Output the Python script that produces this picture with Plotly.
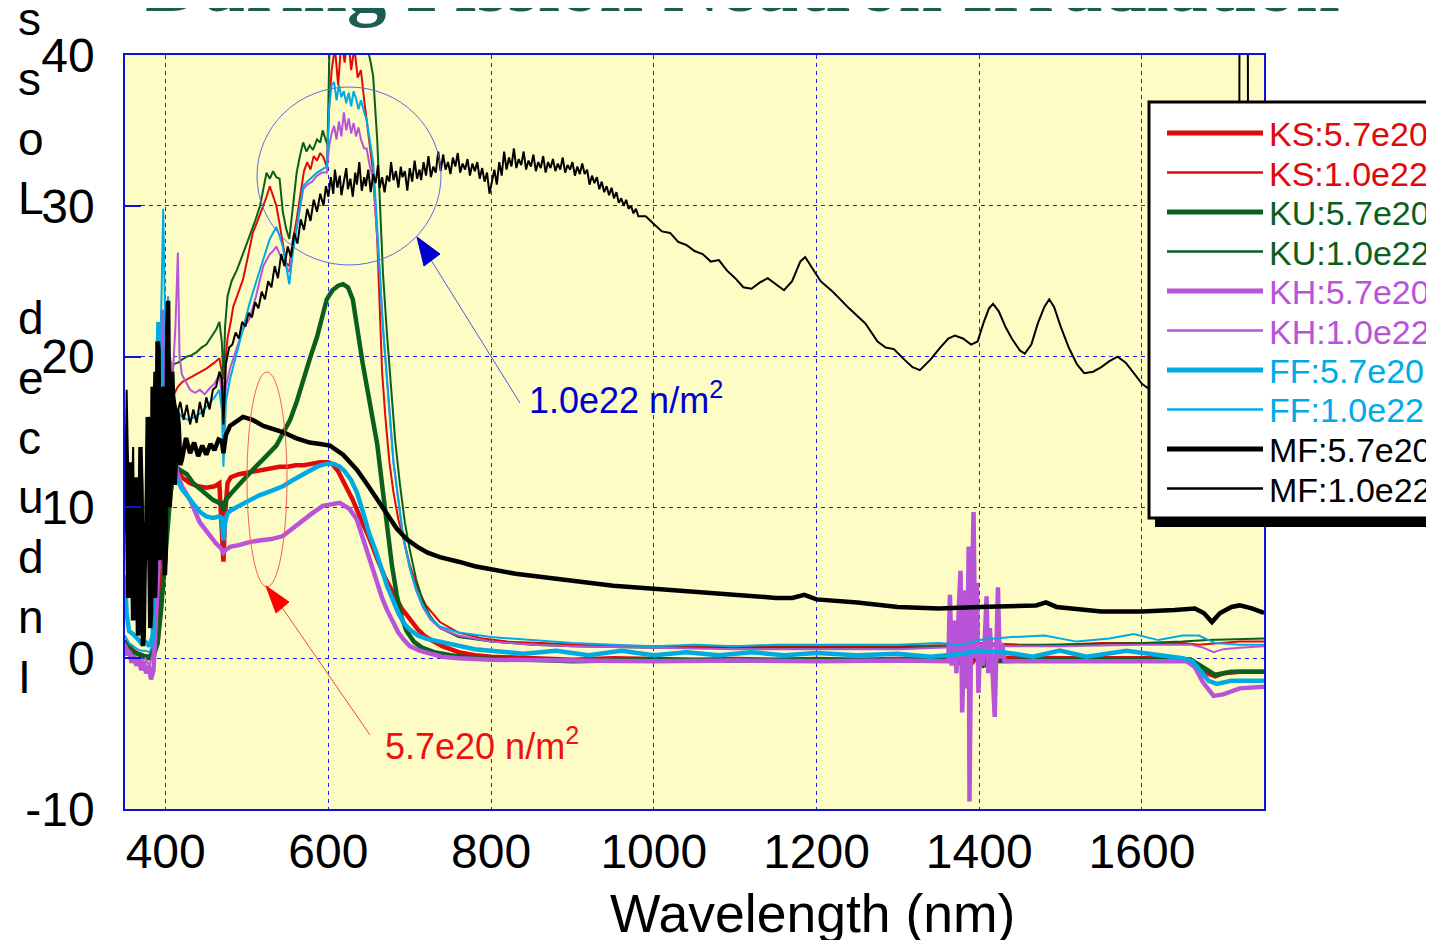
import plotly.graph_objects as go

# ---------------- data (wavelength nm, induced loss) ----------------
KS57 = [(350,1.2),(355,0.8),(360,0.5),(365,0.3),(370,0.2),(375,0.1),(380,0.0),(385,0.3),(390,1.0),(394,3.5),(398,6.5),(402,9.0),(406,11.0),(410,12.2),(415,12.4),(420,12.0),(430,11.6),(440,11.4),(450,11.3),(460,11.4),(466,11.6),(469,9.0),(471,6.4),(473,9.5),(476,11.6),(480,12.0),(490,12.2),(500,12.3),(510,12.4),(520,12.5),(530,12.6),(540,12.7),(550,12.7),(560,12.8),(570,12.8),(580,12.9),(590,13.0),(600,13.0),(606,12.8),(612,12.4),(620,11.6),(630,10.5),(640,9.2),(650,8.0),(660,6.6),(670,5.3),(680,4.3),(690,3.3),(700,2.6),(710,1.9),(720,1.4),(740,0.8),(760,0.4),(780,0.2),(800,0.1),(850,0.0),(900,-0.1),(950,0.0),(1000,-0.05),(1050,-0.1),(1100,-0.05),(1150,-0.1),(1200,-0.05),(1250,-0.1),(1300,-0.05),(1350,0.0),(1380,0.2),(1390,-0.4),(1400,0.3),(1410,-0.2),(1420,0.0),(1450,0.05),(1500,0.0),(1550,0.0),(1600,0.0),(1640,0.0),(1660,-0.1),(1670,-0.5),(1680,-1.0),(1690,-1.2),(1700,-1.0),(1720,-0.9),(1750,-0.9)]

KS10 = [(350,1.0),(355,0.5),(360,0.4),(365,0.3),(370,0.2),(375,0.2),(380,0.1),(385,0.5),(390,2.0),(394,6.0),(398,11.0),(402,14.0),(406,16.5),(410,17.5),(415,18.0),(420,18.3),(430,18.6),(440,18.9),(450,19.2),(460,19.6),(466,19.9),(469,19.0),(471,16.0),(473,19.5),(476,21.2),(480,22.3),(483,23.3),(489,24.2),(495,25.1),(501,26.6),(507,28.2),(513,29.0),(520,30.0),(524,30.6),(528,31.3),(532,30.6),(536,30.0),(540,28.8),(544,27.5),(548,26.2),(552,26.0),(556,27.6),(561,29.1),(566,31.0),(570,32.3),(574,32.9),(578,32.4),(582,33.3),(586,33.0),(590,33.5),(594,33.2),(598,32.6),(601,36.6),(604,39.0),(608,40.5),(612,38.0),(616,41.0),(620,39.5),(624,41.5),(628,39.0),(632,40.5),(636,38.5),(640,39.0),(644,37.0),(647,35.7),(651,33.8),(655,32.2),(660,27.8),(663,23.5),(666,19.0),(670,16.0),(675,13.0),(680,11.0),(686,9.2),(692,8.0),(700,6.2),(710,4.6),(720,3.5),(737,2.4),(760,1.7),(790,1.3),(820,1.1),(860,1.0),(900,0.9),(950,0.8),(1000,0.8),(1100,0.8),(1200,0.8),(1300,0.8),(1380,0.9),(1400,1.0),(1450,0.9),(1500,0.9),(1550,1.0),(1600,1.0),(1650,1.0),(1670,0.9),(1690,1.0),(1720,1.1),(1750,1.1)]

KU57 = [(350,0.8),(355,0.5),(360,0.3),(365,0.3),(370,0.2),(375,0.1),(380,0.0),(385,0.1),(390,1.0),(394,3.0),(398,6.0),(402,9.0),(406,11.0),(410,12.3),(415,12.6),(420,12.4),(426,12.2),(434,11.6),(442,11.2),(450,10.8),(458,10.5),(466,10.3),(469,10.3),(471,9.8),(474,10.5),(480,10.9),(488,11.4),(496,11.9),(507,12.5),(520,13.2),(536,14.1),(545,15.0),(553,15.8),(561,17.0),(569,18.5),(578,20.0),(586,21.3),(592,22.6),(598,23.8),(605,24.4),(612,24.7),(618,24.8),(624,24.6),(630,23.8),(636,21.6),(642,19.6),(648,17.8),(654,16.0),(660,14.2),(666,11.5),(672,8.8),(678,6.2),(684,4.2),(690,2.7),(696,1.8),(705,1.1),(715,0.7),(730,0.4),(750,0.2),(780,0.0),(850,-0.1),(900,-0.2),(1000,-0.1),(1100,-0.15),(1200,-0.1),(1300,-0.15),(1370,-0.1),(1385,-0.6),(1395,0.3),(1405,-0.5),(1420,-0.2),(1500,-0.1),(1600,-0.1),(1660,-0.1),(1675,-0.6),(1690,-1.1),(1710,-0.9),(1750,-0.9)]

KU10 = [(350,1.2),(355,0.8),(360,0.5),(365,0.4),(370,0.3),(375,0.2),(380,0.2),(385,0.8),(390,4.0),(394,9.0),(398,14.0),(402,17.5),(406,19.0),(410,19.5),(415,19.6),(420,19.8),(426,20.0),(432,20.1),(438,20.3),(444,20.6),(450,20.8),(456,21.3),(462,21.8),(466,22.3),(469,21.0),(471,18.5),(473,22.0),(476,24.0),(481,25.0),(488,25.8),(495,26.8),(503,28.0),(510,29.0),(516,30.0),(520,31.0),(524,32.2),(528,31.8),(532,32.3),(536,31.9),(540,31.8),(544,29.6),(548,28.5),(552,27.8),(556,29.8),(561,32.2),(565,33.3),(569,34.2),(573,33.6),(577,34.0),(581,33.7),(586,34.4),(590,34.2),(593,35.0),(596,34.5),(599,34.0),(601,39.7),(603,42.0),(607,41.5),(611,40.5),(615,42.0),(619,41.0),(623,40.2),(627,42.0),(631,40.6),(635,42.0),(640,41.5),(644,40.5),(648,40.5),(652,39.5),(655,38.6),(660,34.4),(664,29.5),(667,25.6),(672,21.5),(676,18.5),(682,14.5),(688,11.5),(694,9.0),(700,7.2),(708,5.2),(716,3.8),(725,2.8),(737,2.0),(760,1.4),(800,1.1),(850,0.9),(900,0.8),(1000,0.7),(1100,0.7),(1200,0.7),(1300,0.7),(1400,0.8),(1500,0.9),(1600,1.0),(1650,1.1),(1680,1.2),(1750,1.3)]

KH57 = [(350,0.8),(352,0.2),(355,0.5),(358,-0.3),(361,0.2),(364,-0.5),(367,0.0),(370,-0.8),(373,-0.2),(376,-1.0),(379,-0.5),(382,-1.4),(385,-0.8),(388,2.0),(391,6.0),(394,10.0),(396,23.1),(399,12.0),(402,16.0),(405,14.5),(408,12.5),(411,13.5),(414,12.3),(420,11.4),(430,10.5),(442,9.0),(454,8.1),(462,7.6),(468,7.3),(471,7.0),(474,7.2),(480,7.4),(490,7.5),(503,7.7),(515,7.8),(530,7.9),(544,8.1),(556,8.6),(569,9.2),(580,9.6),(593,10.1),(604,10.2),(614,10.3),(620,10.1),(626,9.9),(635,9.2),(642,8.0),(650,6.6),(659,5.2),(666,4.0),(672,3.2),(679,2.4),(686,1.7),(693,1.2),(700,0.8),(712,0.5),(725,0.3),(740,0.1),(760,0.0),(800,-0.1),(900,-0.15),(1000,-0.2),(1100,-0.15),(1200,-0.2),(1300,-0.15),(1362,-0.2),(1364,4.2),(1366,-0.5),(1369,2.5),(1372,-1.0),(1375,3.5),(1377,5.8),(1379,-3.6),(1381,1.0),(1383,4.5),(1385,-2.0),(1387,7.4),(1388,-9.5),(1390,1.5),(1393,9.7),(1395,0.0),(1397,5.0),(1399,-2.3),(1401,1.0),(1404,-0.5),(1407,1.5),(1409,4.1),(1411,-1.0),(1413,2.0),(1416,-0.5),(1419,-3.9),(1421,0.5),(1423,4.7),(1425,0.0),(1428,1.0),(1431,-0.2),(1500,-0.2),(1600,-0.2),(1655,-0.2),(1665,-0.6),(1675,-1.6),(1688,-2.5),(1700,-2.4),(1720,-2.0),(1750,-1.9)]

KH10 = [(350,1.0),(355,0.5),(360,0.2),(365,0.0),(370,-0.2),(375,0.0),(380,-0.5),(385,0.5),(389,5.0),(393,12.0),(397,18.0),(401,16.0),(405,20.0),(409,19.0),(412,22.0),(415,26.9),(417,20.0),(420,18.8),(425,18.3),(430,17.8),(436,17.6),(442,17.8),(448,17.5),(454,17.9),(460,18.2),(466,18.8),(469,17.5),(471,15.0),(474,18.0),(479,19.2),(487,20.5),(495,21.8),(503,22.5),(511,24.0),(520,26.0),(528,26.8),(532,27.0),(536,27.3),(540,26.8),(544,26.4),(548,26.0),(552,25.6),(556,27.0),(561,28.6),(565,30.0),(569,31.1),(574,31.4),(580,31.6),(586,32.0),(592,32.2),(598,32.2),(601,34.0),(604,34.8),(607,35.3),(610,34.4),(613,35.6),(616,34.6),(619,36.2),(622,35.0),(625,35.8),(628,34.8),(631,35.5),(634,34.6),(637,35.2),(640,34.4),(644,33.8),(647,33.8),(651,32.6),(655,31.8),(659,29.0),(663,25.6),(667,22.0),(672,18.5),(676,15.5),(680,13.0),(686,10.5),(692,8.0),(700,6.0),(708,4.5),(716,3.4),(725,2.6),(737,2.0),(760,1.5),(800,1.1),(850,0.9),(900,0.8),(1000,0.7),(1100,0.6),(1200,0.6),(1300,0.6),(1350,0.7),(1400,0.8),(1500,0.8),(1600,0.9),(1660,0.9),(1675,0.7),(1688,0.4),(1700,0.6),(1720,0.7),(1750,0.8)]

FF57 = [(350,5.5),(352,3.0),(355,1.8),(360,1.6),(365,1.3),(370,1.0),(375,1.1),(380,0.8),(384,1.5),(388,9.0),(391,22.3),(394,20.0),(397,14.0),(400,18.0),(403,11.0),(406,13.0),(410,12.3),(414,11.9),(420,11.2),(426,10.8),(434,10.2),(442,9.7),(450,9.4),(458,9.3),(466,9.4),(469,9.3),(471,7.8),(473,9.0),(476,9.6),(480,9.8),(490,10.1),(503,10.5),(515,10.8),(530,11.1),(544,11.4),(556,11.8),(570,12.2),(586,12.7),(598,12.9),(606,12.9),(614,12.7),(620,12.4),(628,11.8),(635,11.0),(642,9.8),(650,8.3),(659,7.0),(666,5.8),(672,4.8),(679,3.9),(686,3.0),(693,2.3),(700,1.9),(710,1.5),(720,1.3),(737,1.1),(760,0.8),(780,0.6),(800,0.5),(840,0.3),(880,0.5),(920,0.2),(960,0.5),(1000,0.2),(1040,0.4),(1080,0.2),(1120,0.4),(1160,0.2),(1200,0.35),(1250,0.2),(1300,0.3),(1340,0.1),(1380,0.3),(1400,0.5),(1430,0.4),(1466,0.1),(1499,0.5),(1532,0.1),(1581,0.5),(1630,0.1),(1650,0.0),(1662,-0.2),(1672,-0.8),(1682,-1.5),(1692,-1.7),(1710,-1.5),(1750,-1.5)]

FF10 = [(350,1.5),(355,1.0),(360,0.8),(365,0.6),(370,0.5),(375,0.5),(380,0.4),(385,1.0),(389,8.0),(393,18.0),(397,29.8),(400,20.0),(403,24.0),(406,16.0),(410,17.0),(415,16.3),(420,16.0),(428,15.8),(436,16.0),(444,16.3),(452,16.8),(460,17.3),(466,17.8),(469,16.5),(471,12.7),(474,17.0),(479,18.5),(487,20.2),(495,21.8),(503,23.5),(512,25.1),(520,26.5),(528,27.8),(532,28.2),(536,28.6),(540,28.0),(544,27.3),(548,26.0),(552,24.8),(556,26.8),(561,28.6),(565,30.0),(569,31.3),(574,31.6),(580,31.9),(586,32.2),(592,32.4),(598,32.6),(601,36.6),(604,38.0),(607,38.2),(610,37.0),(613,38.0),(616,37.2),(619,37.6),(622,36.8),(625,37.5),(628,36.6),(631,37.6),(634,37.1),(637,36.4),(640,37.0),(644,36.2),(647,35.7),(651,34.3),(655,32.9),(659,29.5),(663,25.6),(667,22.0),(672,18.5),(676,15.5),(680,13.0),(686,10.5),(692,8.0),(700,6.0),(708,4.5),(716,3.5),(725,2.7),(737,2.1),(760,1.7),(800,1.4),(850,1.2),(900,1.0),(950,0.9),(1000,0.8),(1050,0.9),(1100,0.8),(1150,0.9),(1200,0.9),(1250,0.9),(1300,0.9),(1350,1.0),(1380,0.9),(1400,1.2),(1440,1.4),(1480,1.5),(1520,1.1),(1560,1.3),(1590,1.6),(1620,1.2),(1650,1.5),(1670,1.5),(1690,1.0),(1720,0.9),(1750,0.9)]

MF57 = [(350,8.5),(351,14.0),(352,12.5),(354,4.0),(355,5.0),(357,13.0),(358,10.5),(360,2.5),(361,3.5),(363,12.0),(364,9.0),(366,1.5),(367,2.5),(369,14.0),(370,11.5),(372,0.8),(373,1.5),(375,9.0),(376,6.5),(378,16.0),(379,14.5),(381,2.0),(382,3.0),(384,18.0),(385,17.5),(387,4.0),(388,6.0),(390,21.0),(391,20.5),(393,6.5),(394,8.0),(396,18.0),(397,17.0),(399,5.5),(400,6.8),(402,22.0),(403,23.7),(405,10.0),(406,12.0),(408,19.0),(409,17.5),(411,11.5),(412,12.5),(414,16.5),(416,15.5),(418,12.8),(420,13.2),(425,14.6),(430,13.6),(435,14.3),(440,13.4),(445,14.1),(450,13.5),(455,14.2),(460,13.8),(465,14.5),(469,14.4),(471,13.6),(474,14.8),(479,15.4),(487,15.7),(495,16.0),(501,15.9),(507,15.8),(520,15.4),(532,15.2),(544,15.0),(560,14.6),(577,14.3),(590,14.2),(602,14.1),(618,13.5),(635,12.5),(648,11.5),(660,10.5),(672,9.6),(684,8.6),(696,7.9),(709,7.4),(722,7.0),(737,6.7),(760,6.4),(780,6.1),(800,5.9),(830,5.6),(860,5.4),(900,5.1),(950,4.8),(1000,4.6),(1050,4.4),(1100,4.2),(1150,4.0),(1170,4.0),(1185,4.2),(1200,3.9),(1250,3.7),(1300,3.4),(1350,3.3),(1400,3.4),(1450,3.5),(1470,3.5),(1482,3.7),(1495,3.4),(1550,3.1),(1600,3.1),(1640,3.2),(1665,3.3),(1676,3.0),(1686,2.4),(1696,3.0),(1710,3.4),(1720,3.5),(1735,3.3),(1750,3.0)]

MF10 = [(350,9.0),(352,17.8),(354,12.0),(357,6.0),(360,14.0),(362,4.0),(365,10.0),(368,2.0),(371,12.0),(374,5.0),(377,15.0),(380,3.0),(383,11.0),(386,19.0),(389,7.0),(392,21.0),(395,12.0),(398,18.0),(401,14.0),(404,20.0),(407,15.0),(410,17.5),(414,16.2),(418,17.0),(422,15.8),(426,16.8),(430,15.5),(434,16.5),(438,15.6),(442,17.0),(446,16.0),(450,17.3),(454,16.5),(458,17.8),(462,18.0),(466,19.0),(469,18.5),(471,15.5),(474,19.5),(478,20.6),(482,20.8),(486,21.6),(490,21.2),(494,22.3),(498,22.0),(502,22.9),(506,22.6),(510,23.6),(514,23.2),(518,24.3),(522,23.8),(526,25.0),(530,24.6),(534,26.0),(538,25.2),(542,26.8),(546,26.0),(550,27.3),(554,26.6),(558,28.2),(562,27.5),(566,29.1),(570,28.4),(574,29.8),(578,29.0),(582,30.4),(586,29.6),(590,30.8),(594,30.0),(597,31.3),
(600,30.6),(603,31.9),(606,30.8),(608,32.4),(611,31.2),(614,32.0),(616,30.7),(619,31.6),(622,32.5),(624,31.1),(627,31.8),(630,30.6),(633,32.2),(635,31.4),(638,32.9),(641,31.0),(644,31.9),(646,31.3),(649,32.4),(652,30.9),(655,32.1),(658,31.5),(661,32.7),(663,31.2),(666,31.9),(669,30.9),(672,32.0),(675,31.6),(677,32.9),(680,31.7),(683,32.3),(686,31.2),(689,32.6),(691,31.9),(694,32.3),(697,31.0),(700,32.5),(703,31.6),(706,33.0),(709,31.8),(712,32.4),(714,31.7),(717,32.9),(720,32.0),(723,33.3),(726,31.9),(729,32.6),(732,32.2),(735,33.6),(738,32.3),(741,33.4),(744,32.4),(747,32.9),(750,32.1),(753,33.2),(756,32.6),(759,33.5),(762,32.2),(765,32.8),(768,32.4),(771,33.1),(774,32.0),(777,32.8),(780,32.3),(783,32.9),(786,31.8),(789,32.5),(792,31.6),(795,32.2),(798,30.8),(801,31.5),(804,32.4),(807,31.4),(810,32.9),(813,32.0),(816,33.6),(819,32.4),(822,33.2),(825,32.6),(828,33.8),(831,32.5),(834,33.1),(837,32.7),(840,33.6),(843,32.4),(846,33.0),(849,32.6),(852,33.4),(855,32.3),(858,32.9),(861,32.5),(864,33.3),(867,32.2),(870,32.9),(873,32.5),(876,33.1),(879,32.3),(882,32.8),(885,32.4),(888,33.2),(891,32.2),(894,32.7),(897,32.4),(900,32.9),(903,32.0),(906,32.6),(909,32.1),(912,32.8),(915,32.1),(918,32.4),(921,31.4),(924,32.0),(927,31.5),(930,31.9),(933,31.1),(936,31.6),(939,30.9),(942,31.3),(945,30.7),(948,31.2),(951,30.5),(954,30.9),(957,30.2),(960,30.5),(963,30.0),(966,30.4),(969,29.8),(972,30.0),(975,29.5),(978,29.8),(981,29.3),
(990,29.3),(1000,28.8),(1010,28.3),(1020,28.2),(1030,27.6),(1040,27.4),(1050,27.0),(1060,26.8),(1070,26.3),(1080,26.4),(1090,25.7),(1100,25.2),(1110,24.6),(1120,24.5),(1130,24.9),(1140,25.2),(1150,24.8),(1160,24.4),(1170,25.0),(1180,26.3),(1186,26.6),(1195,25.8),(1205,25.0),(1220,24.3),(1240,23.2),(1260,22.2),(1275,21.0),(1285,20.6),(1295,20.5),(1308,19.8),(1318,19.3),(1327,19.1),(1340,19.8),(1352,20.6),(1362,21.2),(1370,21.4),(1380,21.2),(1390,20.8),(1398,21.0),(1405,22.2),(1412,23.2),(1417,23.5),(1424,23.0),(1432,22.0),(1440,21.2),(1450,20.4),(1456,20.2),(1464,20.8),(1472,22.2),(1480,23.3),(1486,23.8),(1492,23.3),(1500,22.0),(1510,20.6),(1520,19.5),(1529,18.9),(1540,19.0),(1550,19.3),(1560,19.7),(1570,20.0),(1580,19.6),(1590,18.9),(1600,18.2),(1610,17.8),(1630,17.7),(1650,17.5),(1670,17.3),(1690,17.0),(1710,16.8),(1719,16.8),(1720,45.0),(1730,45.0),(1731,16.5),(1750,16.3)]

SERIES_DATA = [KS57, KS10, KU57, KU10, KH57, KH10, FF57, FF10, MF57, MF10]
SERIES_NAMES = ["KS:5.7e20", "KS:1.0e22", "KU:5.7e20", "KU:1.0e22", "KH:5.7e20",
                "KH:1.0e22", "FF:5.7e20", "FF:1.0e22", "MF:5.7e20", "MF:1.0e22"]
SERIES_COLORS = ["#E00A0A", "#E00A0A", "#0A5F1E", "#0A5F1E", "#B854D8",
                 "#B854D8", "#00AAE4", "#00AAE4", "#000000", "#000000"]
SERIES_WIDTHS = [4.5, 2.0, 4.5, 2.0, 4.5, 2.0, 4.5, 2.0, 4.5, 2.0]

X_TICKS = [400, 600, 800, 1000, 1200, 1400, 1600]
Y_TICKS = [-10, 0, 10, 20, 30, 40]
Y_TICK_LABELS = ["-10", "0", "10", "20", "30", "40"]
X_RANGE = [350, 1750]
Y_RANGE = [-10, 40]

# ---------------- geometry helpers (reference screen pixel -> coords) ----------------
OFF = 8                      # page body margin of the html page
L, R, T, B = 125, 1264, 55, 809   # plot area as seen on screen
W, H = 1434, 940


def XD(px):
    return X_RANGE[0] + (px - L) * (X_RANGE[1] - X_RANGE[0]) / (R - L)


def YD(py):
    return Y_RANGE[1] - (py - T) * (Y_RANGE[1] - Y_RANGE[0]) / (B - T)


def XP(px):
    return (px - L) / (R - L)


def YP(py):
    return (B - py) / (B - T)


fig = go.Figure()
for data, name, color, width in zip(SERIES_DATA, SERIES_NAMES, SERIES_COLORS, SERIES_WIDTHS):
    fig.add_trace(go.Scatter(
        x=[p[0] for p in data], y=[p[1] for p in data], mode="lines", name=name,
        line=dict(color=color, width=width), showlegend=False, hoverinfo="skip"))

GRID = "#2222EE"
TICKFONT = dict(family="Liberation Sans, Arial", size=48, color="black")
fig.update_xaxes(range=X_RANGE, tickvals=X_TICKS, showgrid=True, gridcolor=GRID,
                 griddash="4px,4px", gridwidth=1.3, zeroline=False, showline=True,
                 linecolor="#1010DD", linewidth=1.5, mirror=True, ticks="",
                 tickfont=TICKFONT, ticklabelstandoff=0)
fig.update_yaxes(range=Y_RANGE, tickvals=Y_TICKS, ticktext=Y_TICK_LABELS, showgrid=True,
                 gridcolor=GRID, griddash="4px,4px", gridwidth=1.3, zeroline=False,
                 showline=True, linecolor="#1010DD", linewidth=1.5, mirror=True,
                 ticks="inside", ticklen=16, tickwidth=1.5, tickcolor="#1010DD",
                 tickfont=TICKFONT, ticklabelstandoff=19)

shapes = []
annotations = []

# ellipses and arrows
shapes.append(dict(type="circle", xref="x", yref="y", x0=XD(257), x1=XD(441), y0=YD(265), y1=YD(87),
                   line=dict(color="rgb(95,105,225)", width=1)))
shapes.append(dict(type="circle", xref="x", yref="y", x0=XD(247), x1=XD(287), y0=YD(587), y1=YD(372),
                   line=dict(color="rgb(245,95,85)", width=1)))
shapes.append(dict(type="line", xref="x", yref="y", x0=XD(520), y0=YD(403), x1=XD(431), y1=YD(260),
                   line=dict(color="rgb(80,90,225)", width=1)))
shapes.append(dict(type="path", xref="x", yref="y",
                   path=f"M{XD(417)},{YD(237)} L{XD(440)},{YD(254)} L{XD(424)},{YD(266)} Z",
                   fillcolor="#0000CC", line=dict(color="#0000CC", width=1)))
shapes.append(dict(type="line", xref="x", yref="y", x0=XD(370), y0=YD(735), x1=XD(281), y1=YD(606),
                   line=dict(color="rgb(245,70,60)", width=1)))
shapes.append(dict(type="path", xref="x", yref="y",
                   path=f"M{XD(266)},{YD(586)} L{XD(289)},{YD(602)} L{XD(276)},{YD(613)} Z",
                   fillcolor="#FF0000", line=dict(color="#FF0000", width=1)))

annotations.append(dict(xref="x", yref="y", x=XD(527), y=YD(398), xanchor="left", yanchor="middle",
                        text="1.0e22 n/m<sup>2</sup>", showarrow=False,
                        font=dict(family="Liberation Sans, Arial", size=36, color="#0000CC")))
annotations.append(dict(xref="x", yref="y", x=XD(383), y=YD(744), xanchor="left", yanchor="middle",
                        text="5.7e20 n/m<sup>2</sup>", showarrow=False,
                        font=dict(family="Liberation Sans, Arial", size=36, color="#EE1111")))

# manual legend box
shapes.append(dict(type="rect", xref="paper", yref="paper", layer="above",
                   x0=XP(1155), x1=XP(1470), y0=YP(527), y1=YP(110),
                   fillcolor="black", line=dict(width=0)))
shapes.append(dict(type="rect", xref="paper", yref="paper", layer="above",
                   x0=XP(1149), x1=XP(1470), y0=YP(518), y1=YP(102),
                   fillcolor="white", line=dict(color="black", width=3)))
for i, (name, color, width) in enumerate(zip(SERIES_NAMES, SERIES_COLORS, SERIES_WIDTHS)):
    yc = 133 + 39.5 * i
    shapes.append(dict(type="line", xref="paper", yref="paper", layer="above",
                       x0=XP(1167), x1=XP(1263), y0=YP(yc), y1=YP(yc),
                       line=dict(color=color, width=5 if width > 3 else 2.5)))
    annotations.append(dict(xref="paper", yref="paper", x=XP(1267), y=YP(yc + 1),
                            xanchor="left", yanchor="middle", text=name, showarrow=False,
                            font=dict(family="Liberation Sans, Arial", size=34, color=color)))

# title (cut at the top edge), axis titles
annotations.append(dict(xref="paper", yref="paper", x=XP(742), y=YP(30), xanchor="center",
                        yanchor="bottom", text="<b>During Fission Neutron Irradiation</b>",
                        showarrow=False,
                        font=dict(family="Liberation Serif, Times New Roman", size=79, color="#1B5E50")))
annotations.append(dict(xref="paper", yref="paper", x=XP(16), y=YP(348), xanchor="left",
                        yanchor="middle", align="left",
                        text="s<br>s<br>o<br>L<br> <br>d<br>e<br>c<br>u<br>d<br>n<br>I",
                        showarrow=False,
                        font=dict(family="Liberation Sans, Arial", size=46, color="black")))
annotations.append(dict(xref="paper", yref="paper", x=XP(812), y=YP(914), xanchor="center",
                        yanchor="middle", text="Wavelength (nm)", showarrow=False,
                        font=dict(family="Liberation Sans, Arial", size=53.5, color="black")))

fig.update_layout(
    width=W, height=H,
    margin=dict(l=L - OFF, r=W - R + OFF, t=T - OFF, b=H - B + OFF, autoexpand=False),
    paper_bgcolor="white", plot_bgcolor="#FCFCC4",
    shapes=shapes, annotations=annotations, showlegend=False,
)

fig.write_html("out.html")
